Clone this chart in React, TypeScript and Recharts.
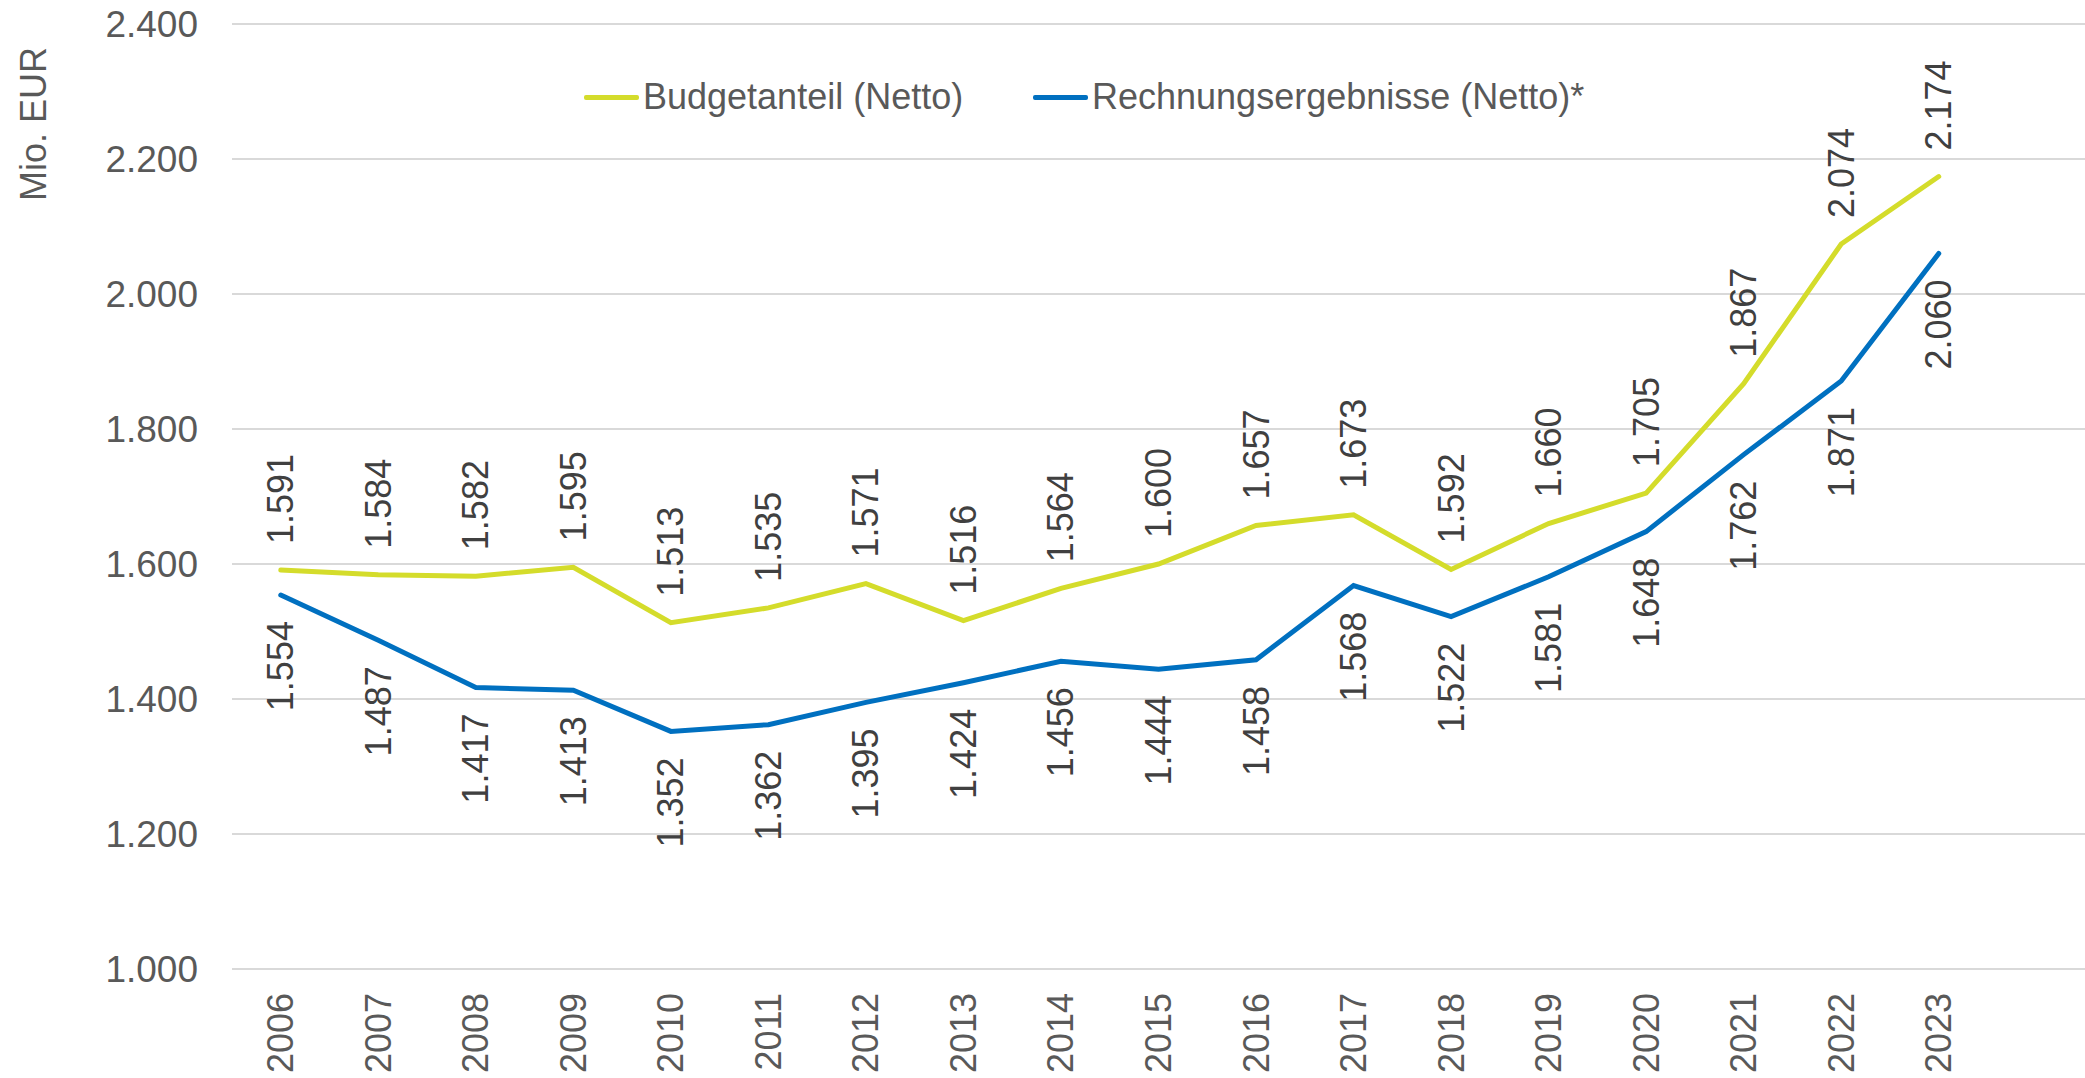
import React from "react";
import {
  LineChart,
  Line,
  XAxis,
  YAxis,
  CartesianGrid,
  LabelList,
} from "recharts";

const years = [
  "2006", "2007", "2008", "2009", "2010", "2011", "2012", "2013", "2014",
  "2015", "2016", "2017", "2018", "2019", "2020", "2021", "2022", "2023",
];
const budget = [
  1591, 1584, 1582, 1595, 1513, 1535, 1571, 1516, 1564,
  1600, 1657, 1673, 1592, 1660, 1705, 1867, 2074, 2174,
];
const rechnung = [
  1554, 1487, 1417, 1413, 1352, 1362, 1395, 1424, 1456,
  1444, 1458, 1568, 1522, 1581, 1648, 1762, 1871, 2060,
];
const yTicks = [1000, 1200, 1400, 1600, 1800, 2000, 2200, 2400];

const FONT = '"Liberation Sans", Arial, sans-serif';
const AXIS_GREY = "#595959";
const LABEL_GREY = "#404040";
const YELLOW = "#d4dc2b";
const BLUE = "#0070c0";

const data = years.map((year, i) => ({ year, budget: budget[i], rechnung: rechnung[i] }));

// German thousands separator: 1591 -> "1.591"
const fmt = (v: number) => String(Math.round(v)).replace(/\B(?=(\d{3})+(?!\d))/g, ".");

const AboveLabel = (props: any) => {
  const x = props.x ?? props.viewBox?.x;
  const y = (props.y ?? props.viewBox?.y) - 26;
  if (props.value == null) return null;
  return (
    <text x={x} y={y} transform={`rotate(-90, ${x}, ${y})`} textAnchor="start"
      dominantBaseline="central" fontSize={36} fill={LABEL_GREY} fontFamily={FONT}>
      {fmt(props.value)}
    </text>
  );
};

const BelowLabel = (props: any) => {
  const x = props.x ?? props.viewBox?.x;
  const y = (props.y ?? props.viewBox?.y) + 26;
  if (props.value == null) return null;
  return (
    <text x={x} y={y} transform={`rotate(-90, ${x}, ${y})`} textAnchor="end"
      dominantBaseline="central" fontSize={36} fill={LABEL_GREY} fontFamily={FONT}>
      {fmt(props.value)}
    </text>
  );
};

const YearTick = ({ x, y, payload }: any) => (
  <text x={x} y={y} transform={`rotate(-90, ${x}, ${y})`} textAnchor="end"
    dominantBaseline="central" fontSize={36} fill={AXIS_GREY} fontFamily={FONT}>
    {payload.value}
  </text>
);

const ValueTick = ({ x, y, payload }: any) => (
  <text x={x} y={y} textAnchor="end" dominantBaseline="central"
    fontSize={37} fill={AXIS_GREY} fontFamily={FONT}>
    {fmt(payload.value)}
  </text>
);

const AxisTitle = ({ viewBox }: any) => {
  const x = viewBox.x + 33;
  const y = viewBox.y + 100;
  return (
    <text x={x} y={y} transform={`rotate(-90, ${x}, ${y})`} textAnchor="middle"
      dominantBaseline="central" fontSize={36} fill={AXIS_GREY} fontFamily={FONT}>
      Mio. EUR
    </text>
  );
};

const series = [
  { name: "Budgetanteil (Netto)", color: YELLOW, left: 584 },
  { name: "Rechnungsergebnisse (Netto)*", color: BLUE, left: 1033 },
];

export default function App() {
  return (
    <div style={{ position: "absolute", left: 0, top: 0, width: 2085, height: 1078, background: "#fff", fontFamily: FONT }}>
      <LineChart width={2085} height={1078} data={data} margin={{ top: 24, right: 0, bottom: 0, left: 0 }}>
        <CartesianGrid vertical={false} stroke="#d9d9d9" strokeWidth={2} />
        <XAxis
          dataKey="year"
          scale="band"
          interval={0}
          axisLine={false}
          tickLine={false}
          tickSize={0}
          tickMargin={24}
          height={109}
          padding={{ left: 0, right: 97.5 }}
          tick={<YearTick />}
        />
        <YAxis
          domain={[1000, 2400]}
          ticks={yTicks}
          width={232}
          axisLine={false}
          tickLine={false}
          tickSize={0}
          tickMargin={34}
          tick={<ValueTick />}
          label={{ content: <AxisTitle /> }}
        />
        <Line type="linear" dataKey="budget" stroke={YELLOW} strokeWidth={5} strokeLinecap="round"
          dot={false} isAnimationActive={false}>
          <LabelList dataKey="budget" content={<AboveLabel />} />
        </Line>
        <Line type="linear" dataKey="rechnung" stroke={BLUE} strokeWidth={5} strokeLinecap="round"
          dot={false} isAnimationActive={false}>
          <LabelList dataKey="rechnung" content={<BelowLabel />} />
        </Line>
      </LineChart>
      {series.map((s) => (
        <div key={s.name} style={{ position: "absolute", left: s.left, top: 75, height: 44, display: "flex", alignItems: "center" }}>
          <div style={{ width: 55, height: 5, background: s.color, borderRadius: 2, marginRight: 4 }} />
          <span style={{ fontSize: 36, color: AXIS_GREY, whiteSpace: "nowrap" }}>{s.name}</span>
        </div>
      ))}
    </div>
  );
}
